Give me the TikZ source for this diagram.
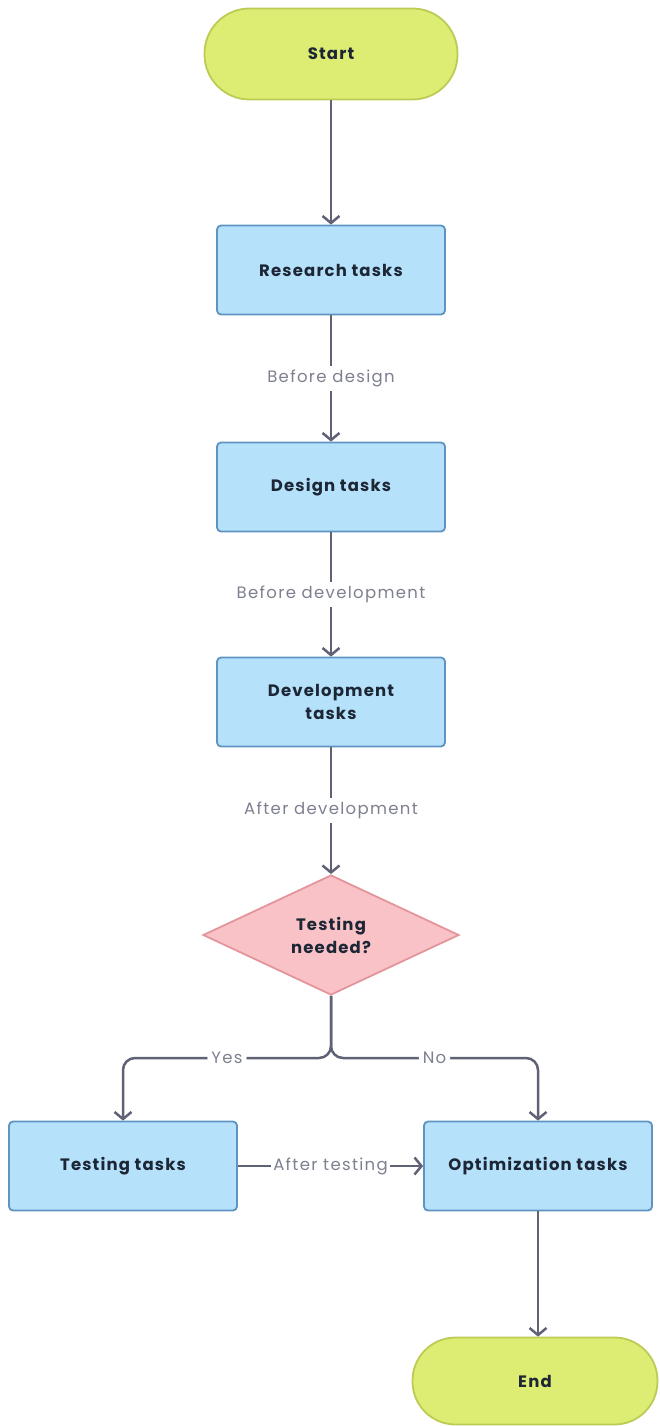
\documentclass[tikz,border=0pt]{standalone}
\usepackage{fontspec}
\setmainfont{Poppins}
\newfontfamily\nodefont[LetterSpace=7]{Poppins}
\newfontfamily\labfont[LetterSpace=8]{Poppins}
\usetikzlibrary{shapes.geometric,arrows.meta}
\definecolor{termfill}{HTML}{DDEC72}
\definecolor{termdraw}{HTML}{BDCB55}
\definecolor{boxfill}{HTML}{B5E1FA}
\definecolor{boxdraw}{HTML}{5E93C2}
\definecolor{decfill}{HTML}{F9C2C6}
\definecolor{decdraw}{HTML}{E3959B}
\definecolor{linecol}{HTML}{5F6275}
\definecolor{labcol}{HTML}{7E8090}
\definecolor{txtcol}{HTML}{1D2635}
\tikzset{
  x=1pt,y=-1pt,
  terminal/.style={rectangle, rounded corners=45pt, fill=termfill, draw=termdraw, line width=1.8pt, minimum width=253pt, minimum height=91pt, text=txtcol, font=\nodefont\fontsize{16.5}{18}\selectfont\bfseries},
  taskbox/.style={rectangle, rounded corners=4pt, fill=boxfill, draw=boxdraw, line width=1.8pt, minimum width=228pt, minimum height=89pt, text=txtcol, align=center, font=\nodefont\fontsize{16.5}{23}\selectfont\bfseries},
  decision/.style={diamond, fill=decfill, draw=decdraw, line width=1.8pt, minimum width=256pt, minimum height=120pt, inner sep=0pt, text=txtcol, align=center, font=\nodefont\fontsize{16.5}{23}\selectfont\bfseries},
  conn/.style={draw=linecol, line width=2.5pt, -{Straight Barb[length=7pt,width=17pt,line width=2.5pt]}},
  elabel/.style={fill=white, text=labcol, font=\labfont\fontsize{16.5}{18}\selectfont, inner sep=4pt}
}
\begin{document}
\begin{tikzpicture}
\useasboundingbox (0,0) rectangle (660,1426);
\node[terminal] (start) at (331,54) {Start};
\node[taskbox] (res) at (331,270) {Research tasks};
\node[taskbox] (des) at (331,487) {Design tasks};
\node[taskbox] (dev) at (331,702) {Development\\tasks};
\node[decision] (dec) at (331,935) {Testing\\needed?};
\node[taskbox] (test) at (123,1166) {Testing tasks};
\node[taskbox] (opt) at (538,1166) {Optimization tasks};
\node[terminal, minimum width=245pt, minimum height=87pt, rounded corners=43pt] (end) at (535,1381) {End};
\coordinate (bl) at (123,1058);
\coordinate (br) at (538,1058);

\draw[conn] (start) -- (res);
\draw[conn] (res) -- node[elabel] {Before design} (des);
\draw[conn] (des) -- node[elabel] {Before development} (dev);
\draw[conn] (dev) -- node[elabel] {After development} (dec);
\draw[conn, rounded corners=12pt] (dec.south) |- node[pos=0.75, elabel] {Yes} (bl) -- (test.north);
\draw[conn, rounded corners=12pt] (dec.south) |- node[pos=0.75, elabel] {No} (br) -- (opt.north);
\draw[conn] (test) -- node[elabel, inner sep=2pt] {After testing} (opt);
\draw[conn] (opt.south) -- (opt.south |- end.north);
\end{tikzpicture}
\end{document}
